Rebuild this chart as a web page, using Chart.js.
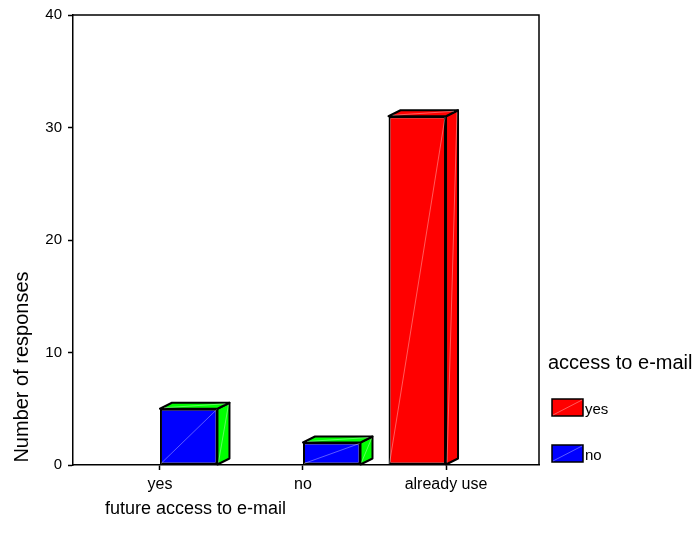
<!DOCTYPE html>
<html>
<head>
<meta charset="utf-8">
<script src="https://cdn.jsdelivr.net/npm/chart.js@4/dist/chart.umd.min.js"></script>
<style>
  html, body { margin: 0; padding: 0; background: #fff; }
  #wrap { width: 698px; height: 547px; position: relative; }
</style>
</head>
<body>
<div id="wrap"><canvas id="chart"></canvas></div>
<script>
// future access to e-mail, split by current access (counts)
const categories = ["yes", "no", "already use"];
const accessYes = [null, null, 31];
const accessNo = [5, 2, null];
const yTicks = [0, 10, 20, 30, 40];

const FONT = "'Liberation Sans', Arial, sans-serif";
const DEPTH_X = 12;
const DEPTH_Y = 6;
const EDGE = 2;

// side/top colour for each series
const faceColors = ["#ff0000", "#00ff00"];

// draws the 3d side + top faces and the faint diagonal on each face
const boxBars = {
  id: "boxBars",
  afterDatasetsDraw(chart) {
    const ctx = chart.ctx;
    ctx.save();
    ctx.lineJoin = "round";
    chart.data.datasets.forEach((ds, di) => {
      const meta = chart.getDatasetMeta(di);
      meta.data.forEach((bar, i) => {
        if (ds.data[i].y == null) return;
        const { x, y, base, width } = bar.getProps(["x", "y", "base", "width"], true);
        const l = x - width / 2;
        const r = x + width / 2;
        ctx.lineWidth = EDGE;
        ctx.strokeStyle = "#000";
        ctx.fillStyle = faceColors[di];

        // right side
        ctx.beginPath();
        ctx.moveTo(r, base);
        ctx.lineTo(r + DEPTH_X, base - DEPTH_Y);
        ctx.lineTo(r + DEPTH_X, y - DEPTH_Y);
        ctx.lineTo(r, y);
        ctx.closePath();
        ctx.fill();
        ctx.stroke();

        // top
        ctx.beginPath();
        ctx.moveTo(l, y);
        ctx.lineTo(l + DEPTH_X, y - DEPTH_Y);
        ctx.lineTo(r + DEPTH_X, y - DEPTH_Y);
        ctx.lineTo(r, y);
        ctx.closePath();
        ctx.fill();
        ctx.stroke();

        // shading streaks
        ctx.strokeStyle = "rgba(255,255,255,0.45)";
        ctx.lineWidth = 0.8;
        ctx.beginPath();
        ctx.moveTo(l + 1, base - 1);
        ctx.lineTo(r - 1, y + 1);
        ctx.moveTo(r + 1, base - 2);
        ctx.lineTo(r + DEPTH_X - 1, y - DEPTH_Y + 2);
        ctx.moveTo(l + 4, y - 1);
        ctx.lineTo(r + DEPTH_X - 4, y - DEPTH_Y + 1);
        ctx.stroke();
      });
    });
    ctx.restore();
  },
};

// frame, axis titles and the legend on the right
const decorations = {
  id: "decorations",
  afterDraw(chart) {
    const ctx = chart.ctx;
    const a = chart.chartArea;
    ctx.save();
    ctx.strokeStyle = "#000";
    ctx.lineWidth = 1.5;
    ctx.beginPath();
    ctx.moveTo(a.left, a.top);
    ctx.lineTo(a.right, a.top);
    ctx.lineTo(a.right, a.bottom);
    ctx.stroke();

    ctx.fillStyle = "#000";
    ctx.textBaseline = "middle";

    // y title
    ctx.save();
    ctx.font = "20px " + FONT;
    ctx.translate(22, 367);
    ctx.rotate(-Math.PI / 2);
    ctx.textAlign = "center";
    ctx.fillText("Number of responses", 0, 0);
    ctx.restore();

    // x title
    ctx.textAlign = "left";
    ctx.font = "18px " + FONT;
    ctx.fillText("future access to e-mail", 105, 509);

    // legend
    ctx.font = "20px " + FONT;
    ctx.fillText("access to e-mail", 548, 363);
    ctx.font = "15px " + FONT;
    chart.data.datasets.forEach((ds, di) => {
      const bx = 552, by = 399 + di * 46, bw = 31, bh = 17;
      ctx.fillStyle = ds.backgroundColor;
      ctx.fillRect(bx, by, bw, bh);
      ctx.strokeStyle = "#000";
      ctx.lineWidth = 1.5;
      ctx.strokeRect(bx, by, bw, bh);
      ctx.strokeStyle = "rgba(255,255,255,0.45)";
      ctx.lineWidth = 0.8;
      ctx.beginPath();
      ctx.moveTo(bx + 1, by + bh - 1);
      ctx.lineTo(bx + bw - 1, by + 1);
      ctx.stroke();
      ctx.fillStyle = "#000";
      ctx.fillText(ds.label, bx + bw + 2, by + bh / 2 + 2);
    });
    ctx.restore();
  },
};

new Chart(document.getElementById("chart"), {
  type: "bar",
  data: {
    datasets: [
      {
        label: "yes",
        data: accessYes.map((v, i) => ({ x: i, y: v })),
        backgroundColor: "#ff0000",
      },
      {
        label: "no",
        data: accessNo.map((v, i) => ({ x: i, y: v })),
        backgroundColor: "#0000ff",
      },
    ],
  },
  options: {
    responsive: true,
    maintainAspectRatio: false,
    animation: false,
    layout: { padding: { top: 15, right: 159, left: 0, bottom: 0 } },
    datasets: {
      bar: {
        borderColor: "#000",
        borderWidth: EDGE,
        borderSkipped: false,
        categoryPercentage: 0.804,
        barPercentage: 1,
      },
    },
    plugins: {
      legend: { display: false },
      tooltip: { enabled: false },
    },
    scales: {
      x: {
        type: "linear",
        offset: false,
        min: -0.608,
        max: 2.65,
        afterBuildTicks: (scale) => {
          scale.ticks = categories.map((_, i) => ({ value: i }));
        },
        afterFit: (scale) => { scale.height = 82; },
        ticks: {
          color: "#000",
          font: { family: FONT, size: 16 },
          padding: 5,
          maxRotation: 0,
          callback: (v) => categories[v],
        },
        grid: {
          offset: false,
          drawOnChartArea: false,
          tickLength: 5,
          tickColor: "#000",
          tickWidth: 1.5,
        },
        border: { color: "#000", width: 1.5 },
      },
      y: {
        min: 0,
        max: 40,
        afterBuildTicks: (scale) => {
          scale.ticks = yTicks.map((v) => ({ value: v }));
        },
        afterFit: (scale) => { scale.width = 73; },
        ticks: {
          color: "#000",
          font: { family: FONT, size: 15 },
          padding: 6,
        },
        grid: { drawOnChartArea: false, tickLength: 5, tickColor: "#000", tickWidth: 1.5 },
        border: { color: "#000", width: 1.5 },
      },
    },
  },
  plugins: [boxBars, decorations],
});
</script>
</body>
</html>
